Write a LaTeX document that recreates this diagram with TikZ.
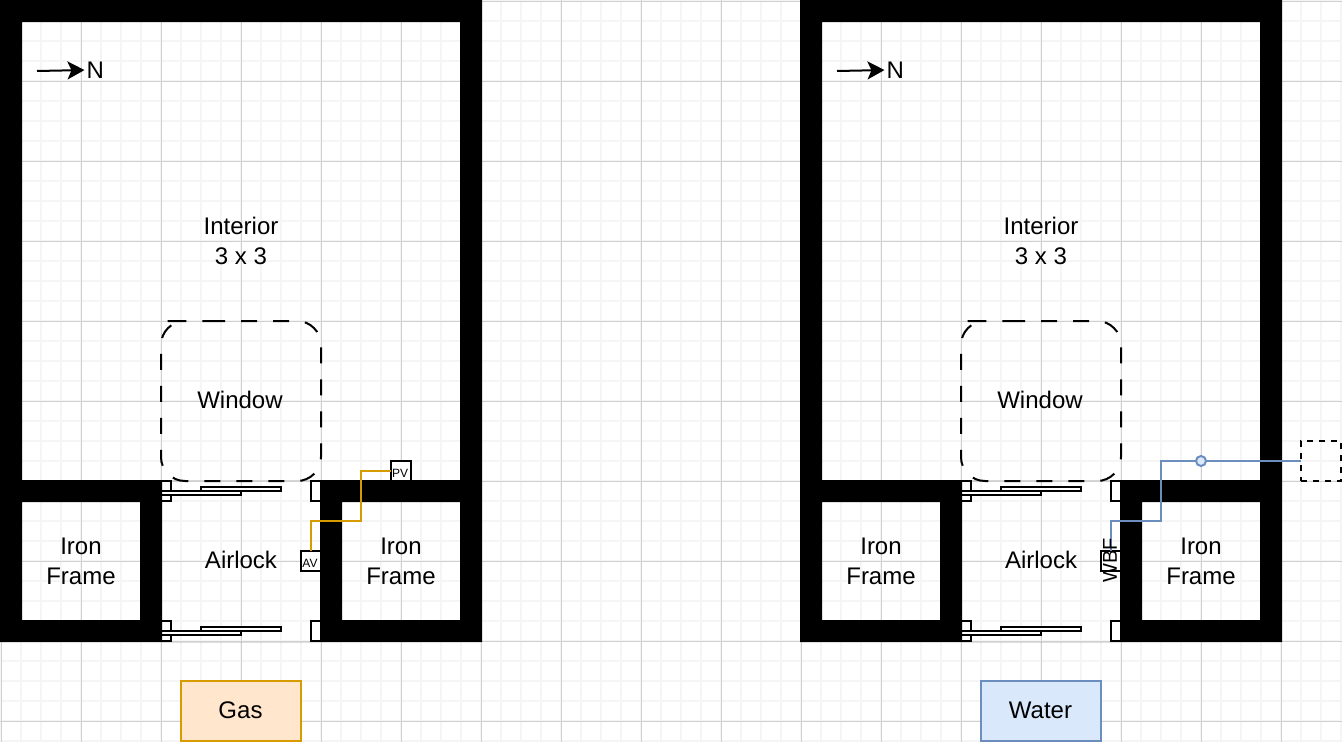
\documentclass[tikz,border=0pt]{standalone}
\usepackage{fontspec}
\setmainfont{Liberation Sans}
\usetikzlibrary{arrows.meta}
\definecolor{gridminor}{HTML}{F5F5F5}
\definecolor{gridmajor}{HTML}{D0D0D0}
\definecolor{gasline}{HTML}{D79B00}
\definecolor{gasfill}{HTML}{FFE6CC}
\definecolor{waterline}{HTML}{6C8EBF}
\definecolor{waterfill}{HTML}{DAE8FC}
\tikzset{
  x=1pt,y=-1pt,
  label24/.style={font=\fontsize{24}{30}\selectfont,align=center,inner sep=0,outer sep=0,text=black},
  small12/.style={font=\fontsize{12}{14}\selectfont},
  outline/.style={draw=black,line width=2pt},
  doorpart/.style={outline,fill=white},
  valvebox/.style={outline,fill=white,minimum width=20pt,minimum height=20pt,inner sep=0,outer sep=0},
  wall/.style={fill=black,even odd rule},
  windowbox/.style={draw=black,line width=2pt,dash pattern=on 16pt off 16pt,rounded corners=24pt},
  gaspipe/.style={draw=gasline,line width=2pt},
  waterpipe/.style={draw=waterline,line width=2pt},
  legend/.style={line width=2pt,minimum width=120pt,minimum height=60pt,inner sep=0,outer sep=0},
  legendtext/.style={font=\fontsize{24}{30}\selectfont,inner sep=0},
  northarrow/.style={draw=black,line width=2pt,shorten >=2pt,-{Stealth[length=17pt,width=18pt,inset=4pt]}},
}
\newcommand{\bldg}[2]{% #1 x offset, #2 prefix
  \begin{scope}[shift={(#1,0)}]
    % window
    \draw[windowbox] (185,321) -- (321,321) -- (321,481) -- (161,481) -- (161,321) -- cycle;
    % doors
    \foreach \dy in {0,140}{
      \draw[doorpart] (161,481+\dy) rectangle (171,501+\dy);
      \draw[doorpart] (311,481+\dy) rectangle (321,501+\dy);
      \draw[doorpart] (201,487+\dy) rectangle (281,491+\dy);
      \draw[doorpart] (161,491+\dy) rectangle (241,495+\dy);
    }
    % walls
    \path[wall] (0,0) rectangle (482,642)
      (22,22) rectangle (460,480)
      (22,502) rectangle (140,620)
      (342,502) rectangle (460,620)
      (162,480) rectangle (320,642);
    % arrow and labels
    \node[label24,anchor=west] (#2north) at (86.5,70) {N};
    \coordinate (#2tail) at (37,71);
    \draw[northarrow] (#2tail) -- (#2north.west);
    \node[label24] (#2interior) at (241,241) {Interior\\3 x 3};
    \node[label24] (#2window) at (240,400) {Window};
    \node[label24] (#2airlock) at (241,560) {Airlock};
    \node[label24] (#2ironl) at (81,561) {Iron\\Frame};
    \node[label24] (#2ironr) at (401,561) {Iron\\Frame};
  \end{scope}
}
\begin{document}
\begin{tikzpicture}
  \useasboundingbox (0,0) rectangle (1342,742);
  \fill[white] (0,0) rectangle (1342,742);
  % grid
  \foreach \i in {0,...,67}{
    \draw[gridminor,line width=2pt] ({1+20*\i},0) -- ({1+20*\i},742);
  }
  \foreach \i in {0,...,37}{
    \draw[gridminor,line width=2pt] (0,{1+20*\i}) -- (1342,{1+20*\i});
  }
  \foreach \i in {0,...,16}{
    \draw[gridmajor,line width=1pt] ({1.5+80*\i},0) -- ({1.5+80*\i},742);
  }
  \foreach \i in {0,...,9}{
    \draw[gridmajor,line width=1pt] (0,{1.5+80*\i}) -- (1342,{1.5+80*\i});
  }
  % boxes hidden partly by the walls
  \node[valvebox] (av) at (311,561) {};
  \node[valvebox] (pv) at (401,471) {};
  \node[valvebox] (wbf) at (1111,561) {};
  \bldg{0}{a}
  \bldg{800}{b}
  \node[small12,inner sep=0] (avt) at (310,563) {AV};
  \node[small12,inner sep=0] (pvt) at (400,473) {PV};
  % gas pipe
  \coordinate (g1) at (311,521);
  \coordinate (g2) at (361,521);
  \coordinate (g3) at (361,471);
  \draw[gaspipe] (av.north) -- (g1) -- (g2) -- (g3) -- (pv.west);
  % water pipe
  \node[draw=black,line width=2pt,dash pattern=on 6pt off 6pt,minimum width=40pt,minimum height=40pt,inner sep=0,outer sep=0] (tank) at (1321,461) {};
  \coordinate (w1) at (1111,521);
  \coordinate (w2) at (1161,521);
  \coordinate (w3) at (1161,461);
  \draw[waterpipe] (wbf.north) -- (w1) -- (w2) -- (w3) -- (tank.west);
  \node[circle,draw=waterline,fill=waterfill,line width=2pt,minimum size=10pt,inner sep=0,outer sep=0] (joint) at (1201,461) {};
  \node[font=\fontsize{20}{24}\selectfont,rotate=90,inner sep=0] (wbft) at (1110,560) {WBF};
  % legends
  \node[legend,draw=gasline,fill=gasfill] (gas) at (241,711) {};
  \node[legend,draw=waterline,fill=waterfill] (water) at (1041,711) {};
  \node[legendtext] (gast) at (240.5,710) {Gas};
  \node[legendtext] (watert) at (1040.5,710) {Water};
\end{tikzpicture}
\end{document}
